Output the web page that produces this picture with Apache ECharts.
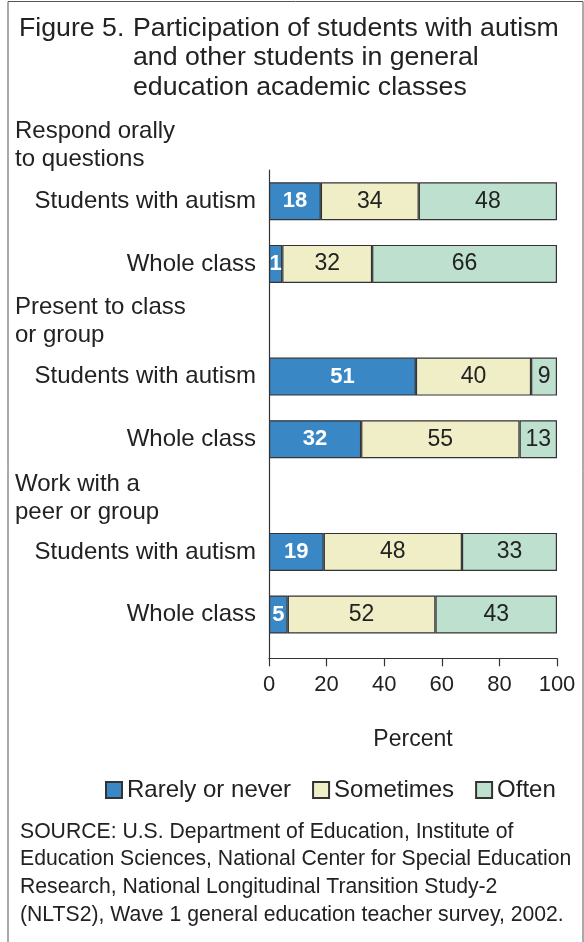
<!DOCTYPE html>
<html>
<head>
<meta charset="utf-8">
<script src="https://cdn.jsdelivr.net/npm/echarts@6/dist/echarts.min.js"></script>
<style>
html,body{margin:0;padding:0;background:#fff;}
#chart{width:584px;height:942px;}
</style>
</head>
<body>
<div id="chart"></div>
<script>
// ---- data ----
const groups = ['Respond orally\nto questions', 'Present to class\nor group', 'Work with a\npeer or group'];
const rowNames = ['Students with autism', 'Whole class', 'Students with autism', 'Whole class', 'Students with autism', 'Whole class'];
const seriesNames = ['Rarely or never', 'Sometimes', 'Often'];
// printed percentages
const rarelyLabels = [18, 1, 51, 32, 19, 5];
const sometimesLabels = [34, 32, 40, 55, 48, 52];
const oftenLabels = [48, 66, 9, 13, 33, 43];
// bar lengths as drawn in the figure
const rarelyBars = [18, 4.6, 51, 32, 19, 6.5];
const sometimesBars = [34, 31.2, 40, 55, 48, 51.3];
const oftenBars = [48, 64.2, 9, 13, 33, 42.2];
const xTicks = [0, 20, 40, 60, 80, 100];
const sourceText = 'SOURCE: U.S. Department of Education, Institute of\nEducation Sciences, National Center for Special Education\nResearch, National Longitudinal Transition Study-2\n(NLTS2), Wave 1 general education teacher survey, 2002.';

// ---- layout helpers ----
const FONT = "'Liberation Sans', Arial, Helvetica, sans-serif";
const SLOTS = 39;
const rowSlot = [2, 7, 16, 21, 30, 35];
const slotRow = {};
rowSlot.forEach((s, i) => slotRow[s] = i);
const yCats = [];
for (let i = 0; i < SLOTS; i++) yCats.push(slotRow[i] !== undefined ? rowNames[slotRow[i]] : '');
function expand(arr) {
  const out = [];
  for (let i = 0; i < SLOTS; i++) out.push(slotRow[i] !== undefined ? arr[slotRow[i]] : '-');
  return out;
}
const colors = ['#3a87c5', '#efeec6', '#bde0cf'];
const barData = [rarelyBars, sometimesBars, oftenBars];
const labelData = [rarelyLabels, sometimesLabels, oftenLabels];

const series = seriesNames.map((name, si) => ({
  name: name,
  type: 'bar',
  stack: 'total',
  barWidth: 38,
  data: expand(barData[si]),
  itemStyle: { color: colors[si], borderColor: '#333', borderWidth: 1.2 },
  label: {
    show: true,
    position: 'inside',
    fontFamily: FONT,
    fontSize: si === 0 ? 22 : 23,
    fontWeight: si === 0 ? 'bold' : 'normal',
    color: si === 0 ? '#ffffff' : '#222',
    formatter: p => String(labelData[si][slotRow[p.dataIndex]])
  },
  emphasis: { disabled: true }
}));

const headerTops = [117, 293, 470];

const chart = echarts.init(document.getElementById('chart'), null, { renderer: 'canvas' });
chart.setOption({
  animation: false,
  backgroundColor: '#fff',
  grid: { left: 269, right: 27, top: 170, bottom: 283.7, containLabel: false },
  xAxis: {
    type: 'value', min: 0, max: 100, interval: 20,
    name: 'Percent', nameLocation: 'middle', nameGap: 70,
    nameTextStyle: { fontFamily: FONT, fontSize: 23, color: '#222' },
    axisLine: { show: true, lineStyle: { color: '#333', width: 1.2 } },
    axisTick: { show: true, inside: false, length: 8, lineStyle: { color: '#333', width: 1.2 } },
    axisLabel: { fontFamily: FONT, fontSize: 22, color: '#222', margin: 16,
      formatter: v => xTicks.indexOf(v) >= 0 ? String(v) : '' },
    splitLine: { show: false }
  },
  yAxis: {
    type: 'category', inverse: true, data: yCats,
    axisLine: { show: true, lineStyle: { color: '#333', width: 1.2 } },
    axisTick: { show: false },
    axisLabel: { interval: 0, fontFamily: FONT, fontSize: 24, color: '#222', margin: 13 },
    splitLine: { show: false }
  },
  legend: {
    data: seriesNames,
    left: 105, top: 778, padding: 0,
    itemWidth: 16, itemHeight: 16, itemGap: 21,
    icon: 'rect',
    textStyle: { fontFamily: FONT, fontSize: 24, color: '#222' },
    selectedMode: false
  },
  series: series,
  graphic: [
    { type: 'polyline', shape: { points: [[8, 942], [8, 1.5], [583, 1.5], [583, 942]] },
      style: { stroke: '#555', lineWidth: 1, fill: null }, silent: true },
    { type: 'text', left: 19, top: 13.5,
      style: { text: 'Figure 5.', font: '26.7px ' + FONT, fill: '#222', lineHeight: 29.5 } },
    { type: 'text', left: 133, top: 13.5,
      style: { text: 'Participation of students with autism\nand other students in general\neducation academic classes', font: '26.7px ' + FONT, fill: '#222', lineHeight: 29.5 } },
    ...groups.map((g, i) => ({ type: 'text', left: 15, top: headerTops[i],
      style: { text: g, font: '24px ' + FONT, fill: '#222', lineHeight: 28.5 } })),
    { type: 'text', left: 20, top: 818,
      style: { text: sourceText, font: '21.2px ' + FONT, fill: '#222', lineHeight: 27.7 } }
  ]
});
</script>
</body>
</html>
